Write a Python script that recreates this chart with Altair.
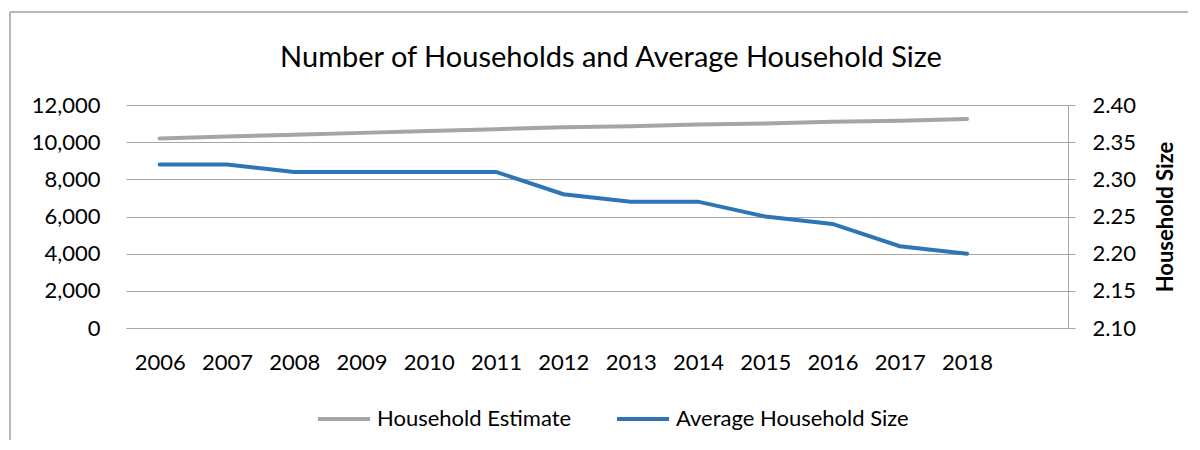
import altair as alt
import pandas as pd

years = [2006, 2007, 2008, 2009, 2010, 2011, 2012, 2013, 2014, 2015, 2016, 2017, 2018]
households = [10200, 10300, 10400, 10500, 10600, 10700, 10800, 10850, 10950, 11000, 11100, 11150, 11250]
avg_size = [2.32, 2.32, 2.31, 2.31, 2.31, 2.31, 2.28, 2.27, 2.27, 2.25, 2.24, 2.21, 2.20]
series_names = ["Household Estimate", "Average Household Size"]
series_colors = ["#A5A5A5", "#2E75B6"]
left_ticks = [0, 2000, 4000, 6000, 8000, 10000, 12000]
right_ticks = [2.10, 2.15, 2.20, 2.25, 2.30, 2.35, 2.40]

df = pd.DataFrame({"year": years, "households": households, "size": avg_size})

FONT = "Lato"
GRID = "#A6A6A6"

x_enc = alt.X(
    "year:Q",
    scale=alt.Scale(domain=[2005.5, 2019.5], nice=False, zero=False),
    axis=alt.Axis(values=years, format="d", title=None, grid=False, ticks=False,
                  domain=False, labelPadding=24, labelFontSize=22, labelFont=FONT,
                  labelColor="black"),
)

color_enc = alt.Color(
    "series:N",
    scale=alt.Scale(domain=series_names, range=series_colors),
    legend=alt.Legend(title=None, orient="none", legendX=190, legendY=286,
                      direction="horizontal", symbolType="stroke", symbolSize=2704,
                      symbolStrokeWidth=4, labelFontSize=22, labelFont=FONT,
                      labelColor="black", labelLimit=500, columnPadding=37,
                      labelOffset=5, padding=0),
)

base = alt.Chart(df)

hh_line = base.transform_calculate(series="'Household Estimate'").mark_line(
    strokeWidth=4, strokeCap="round"
).encode(
    x=x_enc,
    y=alt.Y("households:Q",
            scale=alt.Scale(domain=[0, 12000], nice=False),
            axis=alt.Axis(values=left_ticks, format=",d", title=None, grid=True,
                          gridColor=GRID, gridWidth=1, domain=False, ticks=False,
                          labelPadding=26, labelFontSize=22, labelFont=FONT,
                          labelColor="black")),
    color=color_enc,
)

size_line = base.transform_calculate(series="'Average Household Size'").mark_line(
    strokeWidth=4, strokeCap="round"
).encode(
    x=x_enc,
    y=alt.Y("size:Q",
            scale=alt.Scale(domain=[2.10, 2.40], nice=False, zero=False),
            axis=alt.Axis(orient="right", values=right_ticks, format=".2f",
                          title="Household Size", titleFont=FONT, titleFontSize=22,
                          titleFontWeight="bold", titleColor="black", titleAngle=270,
                          titleBaseline="top", titlePadding=20, grid=False,
                          domain=True, domainColor=GRID, ticks=True, tickSize=7,
                          tickColor=GRID, labelPadding=17, labelFontSize=22,
                          labelFont=FONT, labelColor="black")),
    color=color_enc,
)

frame_df = pd.DataFrame({"a": [0]})
frame_v = alt.Chart(frame_df).mark_rule(color="#A0A0A0", strokeWidth=1.5).encode(
    x=alt.value(-116), y=alt.value(-93), y2=alt.value(400)
)
frame_h = alt.Chart(frame_df).mark_rule(color="#A0A0A0", strokeWidth=1.5).encode(
    x=alt.value(-116), x2=alt.value(1200), y=alt.value(-93)
)

chart = alt.layer(frame_v, frame_h, hh_line, size_line).resolve_scale(
    y="independent"
).properties(
    width=942,
    height=223,
    autosize=alt.AutoSizeParams(type="none"),
    padding={"left": 118, "top": 97, "right": 120, "bottom": 112},
    title=alt.TitleParams("Number of Households and Average Household Size",
                          fontSize=29, font=FONT, fontWeight="normal", color="black",
                          offset=0, dy=62, dx=14, anchor="middle"),
).configure_view(stroke=None)

chart.save("out.html", embed_options={"renderer": "svg", "actions": False})
